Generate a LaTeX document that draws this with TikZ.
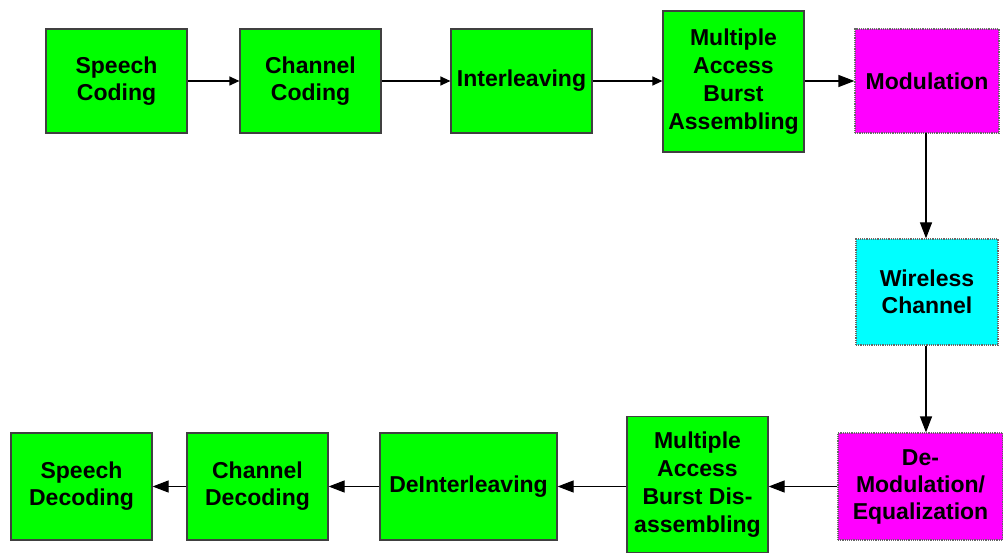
\documentclass[tikz,border=0pt]{standalone}
\usepackage{fontspec}
\setmainfont{Liberation Sans}
\usetikzlibrary{arrows.meta}
\definecolor{blkgreen}{HTML}{00FF00}
\definecolor{blkmagenta}{HTML}{FF00FF}
\definecolor{blkcyan}{HTML}{00FFFF}
\tikzset{
  block/.style={draw=black!75, line width=1.2pt, fill=blkgreen, minimum width=141pt,
    minimum height=104pt, inner sep=0pt, align=center,
    font=\fontsize{23pt}{27pt}\selectfont\bfseries},
  tallblock/.style={block, font=\fontsize{23pt}{28pt}\selectfont\bfseries},
  modblock/.style={block, fill=blkmagenta, draw=black!60, densely dotted},
  chanblock/.style={block, fill=blkcyan, draw=black!60, densely dotted},
  flow/.style={line width=1.2pt, -{Triangle[length=10pt,width=9pt]}},
  bigflow/.style={line width=1.2pt, -{Triangle[length=16pt,width=12pt]}},
}
\begin{document}
\begin{tikzpicture}[x=1pt,y=-1pt]
  \useasboundingbox (0,0) rectangle (1003,553);
  % transmitter chain
  \node[block] (sc) at (116.5,81) {Speech\\Coding};
  \node[block] (cc) at (310.5,81) {Channel\\Coding};
  \node[block] (il) at (521.5,81) {Interleaving};
  \node[tallblock, minimum height=141pt] (mab) at (733.5,81.5) {Multiple\\Access\\Burst\\Assembling};
  \node[modblock, minimum width=144pt] (mod) at (927,81) {Modulation};
  % channel
  \node[chanblock, minimum width=142pt, minimum height=106pt] (wc) at (927,292) {Wireless\\Channel};
  % receiver chain
  \node[modblock, minimum width=165pt, minimum height=107pt] (dm) at (920.5,486.5) {De-\\Modulation/\\Equalization};
  \node[tallblock, minimum height=136pt] (mabd) at (697.5,484.5) {Multiple\\Access\\Burst Dis-\\assembling};
  \node[block, minimum width=177pt, minimum height=107pt] (di) at (468.5,486.5) {DeInterleaving};
  \node[block, minimum height=107pt] (cd) at (257.5,486.5) {Channel\\Decoding};
  \node[block, minimum height=107pt] (sd) at (81.5,486.5) {Speech\\Decoding};
  % connectors
  \draw[flow] (sc) -- (cc);
  \draw[flow] (cc) -- (il);
  \draw[flow] (il) -- (mab.west |- il);
  \draw[bigflow] (mab.east |- mod) -- (mod);
  \draw[bigflow] (926,133) -- (wc.north -| 926,0);
  \draw[bigflow] (wc.south -| 926,0) -- (dm.north -| 926,0);
  \draw[bigflow] (dm) -- (mabd.east |- dm);
  \draw[bigflow] (mabd.west |- di) -- (di);
  \draw[bigflow] (di) -- (cd);
  \draw[bigflow] (cd) -- (sd);
\end{tikzpicture}
\end{document}
